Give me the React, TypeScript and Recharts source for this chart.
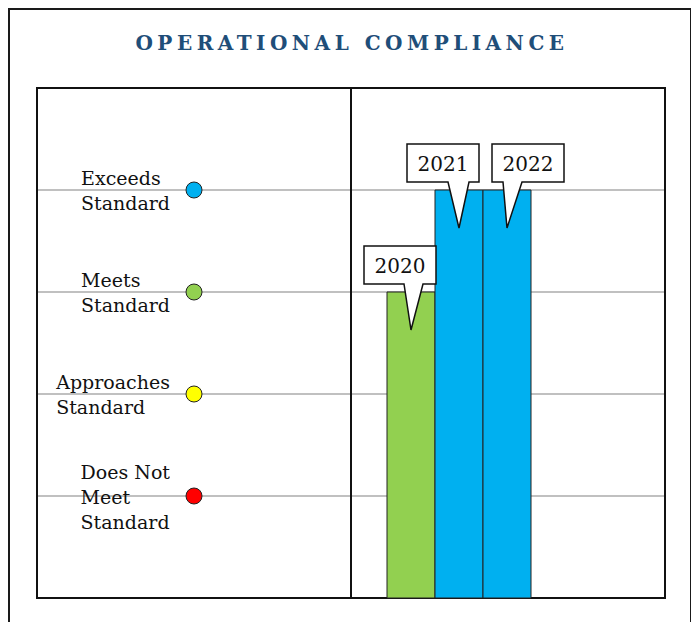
import {
  ComposedChart, Bar, Cell, Scatter, XAxis, YAxis, CartesianGrid, LabelList, ReferenceLine, ReferenceArea
} from 'recharts';

// rating scale (value 1..4), top to bottom as shown on the left panel
const ratingValues = [4, 3, 2, 1];
const ratingLabels = ['Exceeds\nStandard', 'Meets\nStandard', 'Approaches\nStandard', 'Does Not\nMeet\nStandard'];
const ratingColors = ['#00B0F0', '#92D050', '#FFFF00', '#FF0000'];

// yearly results
const years = ['2020', '2021', '2022'];
const yearRatings = [3, 4, 4];

const ratings = ratingValues.map((value, i) => ({ value, label: ratingLabels[i], color: ratingColors[i] }));
const yearData = years.map((year, i) => ({ year, value: yearRatings[i] }));
const colorOf = (v: number) => ratingColors[ratingValues.indexOf(v)];

const FONT = '"DejaVu Serif", serif';

// callout placement tweaks so the boxes don't collide (box left edge, pointer base, relative to bar centre)
const calloutShift = [
  { box: -47, b0: -7, b1: 12 },
  { box: -52, b0: -11, b1: 10 },
  { box: -15, b0: -4, b1: 15 },
];

function RatingDot(props: any) {
  const { cx, cy, payload } = props;
  return (
    <g>
      <foreignObject x={cx - 224} y={cy - 50} width={200} height={100}>
        <div style={{ width: 200, height: 100, display: 'flex', alignItems: 'center', justifyContent: 'flex-end' }}>
          <div style={{ whiteSpace: 'pre-line', textAlign: 'left', fontSize: 19, lineHeight: '25px', fontFamily: FONT, color: '#111', marginTop: 2 }}>
            {payload.label}
          </div>
        </div>
      </foreignObject>
      <circle cx={cx} cy={cy} r={8} fill={payload.color} stroke="#222" strokeWidth={1} />
    </g>
  );
}

function Callout(props: any) {
  const vb = props.viewBox ?? props;
  const x = Number(vb.x), y = Number(vb.y), w = Number(vb.width);
  const s = calloutShift[props.index ?? 0] ?? calloutShift[0];
  const cx = x + w / 2;
  const left = cx + s.box, right = left + 72, top = y - 46, bottom = y - 8;
  const d = `M${left},${top} H${right} V${bottom} H${cx + s.b1} L${cx},${y + 38} L${cx + s.b0},${bottom} H${left} Z`;
  return (
    <g>
      <path d={d} fill="#fff" stroke="#111" strokeWidth={1.5} />
      <text x={(left + right) / 2} y={(top + bottom) / 2 + 1} textAnchor="middle" dominantBaseline="central"
        fontFamily={FONT} fontSize={20} fill="#111">{props.value}</text>
    </g>
  );
}

export default function App() {
  return (
    <div style={{ position: 'relative', width: 684, height: 614, border: '2px solid #1a1a1a', borderBottom: 'none', boxSizing: 'border-box', background: '#fff', fontFamily: FONT }}>
      <div style={{ position: 'absolute', top: 20, left: 0, right: 0, height: 26, lineHeight: '26px', textAlign: 'center', paddingLeft: 4,
        fontSize: 20, fontWeight: 'bold', letterSpacing: 4.5, color: '#1F4E79' }}>
        OPERATIONAL COMPLIANCE
      </div>
      <div style={{ position: 'absolute', top: 0, left: 0 }}>
        <ComposedChart width={680} height={610} data={yearData} barCategoryGap={0} barGap={0}
          margin={{ top: 78, right: 25, bottom: 22, left: 27 }}>
          <CartesianGrid vertical={false} stroke="#c0c0c0" strokeWidth={2} />
          <XAxis xAxisId="bars" dataKey="year" type="category" hide padding={{ left: 350, right: 134 }} />
          <XAxis xAxisId="panel" type="number" domain={[0, 2]} dataKey={() => 0.5} hide />
          <YAxis dataKey="value" domain={[0, 5]} ticks={[1, 2, 3, 4]} hide />
          <Bar xAxisId="bars" dataKey="value" stroke="#222" strokeWidth={1} isAnimationActive={false}>
            {yearData.map((d) => <Cell key={d.year} fill={colorOf(d.value)} />)}
            <LabelList dataKey="year" content={<Callout />} />
          </Bar>
          <Scatter xAxisId="panel" data={ratings} shape={<RatingDot />} isAnimationActive={false} />
          <ReferenceLine xAxisId="panel" x={1} stroke="#111" strokeWidth={2} />
          <ReferenceArea xAxisId="panel" x1={0} x2={2} y1={0} y2={5} fill="none" fillOpacity={0} stroke="#111" strokeWidth={2} />
        </ComposedChart>
      </div>
    </div>
  );
}
